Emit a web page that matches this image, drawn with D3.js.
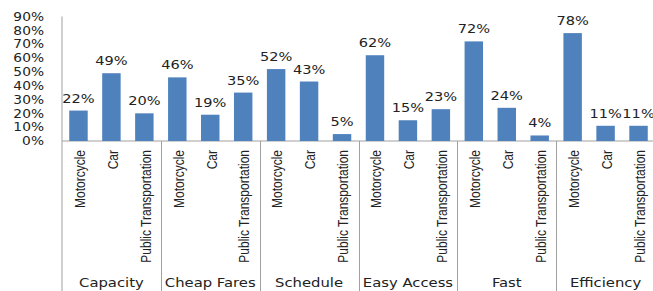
<!DOCTYPE html>
<html>
<head>
<meta charset="utf-8">
<script src="https://cdn.jsdelivr.net/npm/d3@7"></script>
<style>
  html, body { margin: 0; padding: 0; background: #fff; }
  svg { display: block; }
</style>
</head>
<body>
<div id="chart"></div>
<script>
(function () {

    // data (percent)
    var categories = ["Capacity", "Cheap Fares", "Schedule", "Easy Access", "Fast", "Efficiency"];
    var modes = ["Motorcycle", "Car", "Public Transportation"];
    var motorcycle = [22, 46, 52, 62, 72, 78];
    var car = [49, 19, 43, 15, 24, 11];
    var publicTransport = [20, 35, 5, 23, 4, 11];
    var yTicks = [0, 10, 20, 30, 40, 50, 60, 70, 80, 90];

    var barColor = "#4f81bd",
        lineColor = "#a0a0a0",
        textColor = "#222";

    var width = 653, height = 291;
    var left = 62, right = 655, base = 141, top = 16.5;

    // one row per bar
    var rows = [];
    categories.forEach(function (c, i) {
        rows.push({ cat: c, mode: modes[0], value: motorcycle[i] });
        rows.push({ cat: c, mode: modes[1], value: car[i] });
        rows.push({ cat: c, mode: modes[2], value: publicTransport[i] });
    });

    var svg = d3.select("#chart").append("svg")
        .attr("width", width)
        .attr("height", height);

    var x0 = d3.scaleBand().domain(categories).range([left, right]).padding(0);
    var x1 = d3.scaleBand().domain(modes).range([0, x0.bandwidth()])
        .paddingInner(0.44).paddingOuter(0.22);
    var y = d3.scaleLinear().domain([0, 90]).range([base, top]);

    // y tick labels (no tick marks)
    var yAxis = svg.append("g")
        .attr("transform", "translate(44,0)")
        .call(d3.axisLeft(y).tickValues(yTicks).tickSize(0).tickPadding(0)
            .tickFormat(function (d) { return d + "%"; }));
    yAxis.select(".domain").remove();
    yAxis.selectAll("text")
        .attr("fill", textColor)
        .attr("font-family", "DejaVu Sans, Verdana, sans-serif")
        .attr("font-size", 11.5)
        .attr("x", 0)
        .attr("transform", "scale(1.2,1)");

    // axis lines
    svg.append("line")
        .attr("x1", left).attr("x2", width)
        .attr("y1", base).attr("y2", base)
        .attr("stroke", lineColor);
    svg.append("line")
        .attr("x1", left).attr("x2", left)
        .attr("y1", top).attr("y2", height)
        .attr("stroke", lineColor);

    // group separators below the baseline
    svg.selectAll("line.sep")
        .data(categories.slice(1))
        .enter().append("line")
        .attr("class", "sep")
        .attr("x1", function (d) { return Math.round(x0(d)) + 0.5; })
        .attr("x2", function (d) { return Math.round(x0(d)) + 0.5; })
        .attr("y1", base).attr("y2", height)
        .attr("stroke", lineColor);

    // bars
    svg.selectAll("rect.bar")
        .data(rows)
        .enter().append("rect")
        .attr("class", "bar")
        .attr("x", function (d) { return x0(d.cat) + x1(d.mode); })
        .attr("y", function (d) { return y(d.value); })
        .attr("width", x1.bandwidth())
        .attr("height", function (d) { return base - y(d.value); })
        .attr("fill", barColor);

    // value labels
    svg.selectAll("text.val")
        .data(rows)
        .enter().append("text")
        .attr("class", "val")
        .attr("text-anchor", "middle")
        .attr("font-family", "DejaVu Sans, Verdana, sans-serif")
        .attr("font-size", 13)
        .attr("fill", textColor)
        .attr("transform", function (d) {
            var cx = x0(d.cat) + x1(d.mode) + x1.bandwidth() / 2;
            return "translate(" + cx + "," + (y(d.value) - 8) + ") scale(1.12,1)";
        })
        .text(function (d) { return d.value + "%"; });

    // rotated mode labels
    svg.selectAll("text.mode")
        .data(rows)
        .enter().append("text")
        .attr("class", "mode")
        .attr("text-anchor", "end")
        .attr("dy", "0.35em")
        .attr("font-family", "Liberation Sans, Arial, sans-serif")
        .attr("font-size", 12)
        .attr("fill", textColor)
        .attr("transform", function (d) {
            var cx = x0(d.cat) + x1(d.mode) + x1.bandwidth() / 2 + 1;
            return "translate(" + cx + ",150) rotate(-90) scale(1,1.25)";
        })
        .text(function (d) { return d.mode; });

    // category labels
    svg.selectAll("text.cat")
        .data(categories)
        .enter().append("text")
        .attr("class", "cat")
        .attr("text-anchor", "middle")
        .attr("font-family", "DejaVu Sans, Verdana, sans-serif")
        .attr("font-size", 13)
        .attr("fill", textColor)
        .attr("transform", function (d) {
            return "translate(" + (x0(d) + x0.bandwidth() / 2) + ",287) scale(1.14,1)";
        })
        .text(function (d) { return d; });

})();
</script>
</body>
</html>
